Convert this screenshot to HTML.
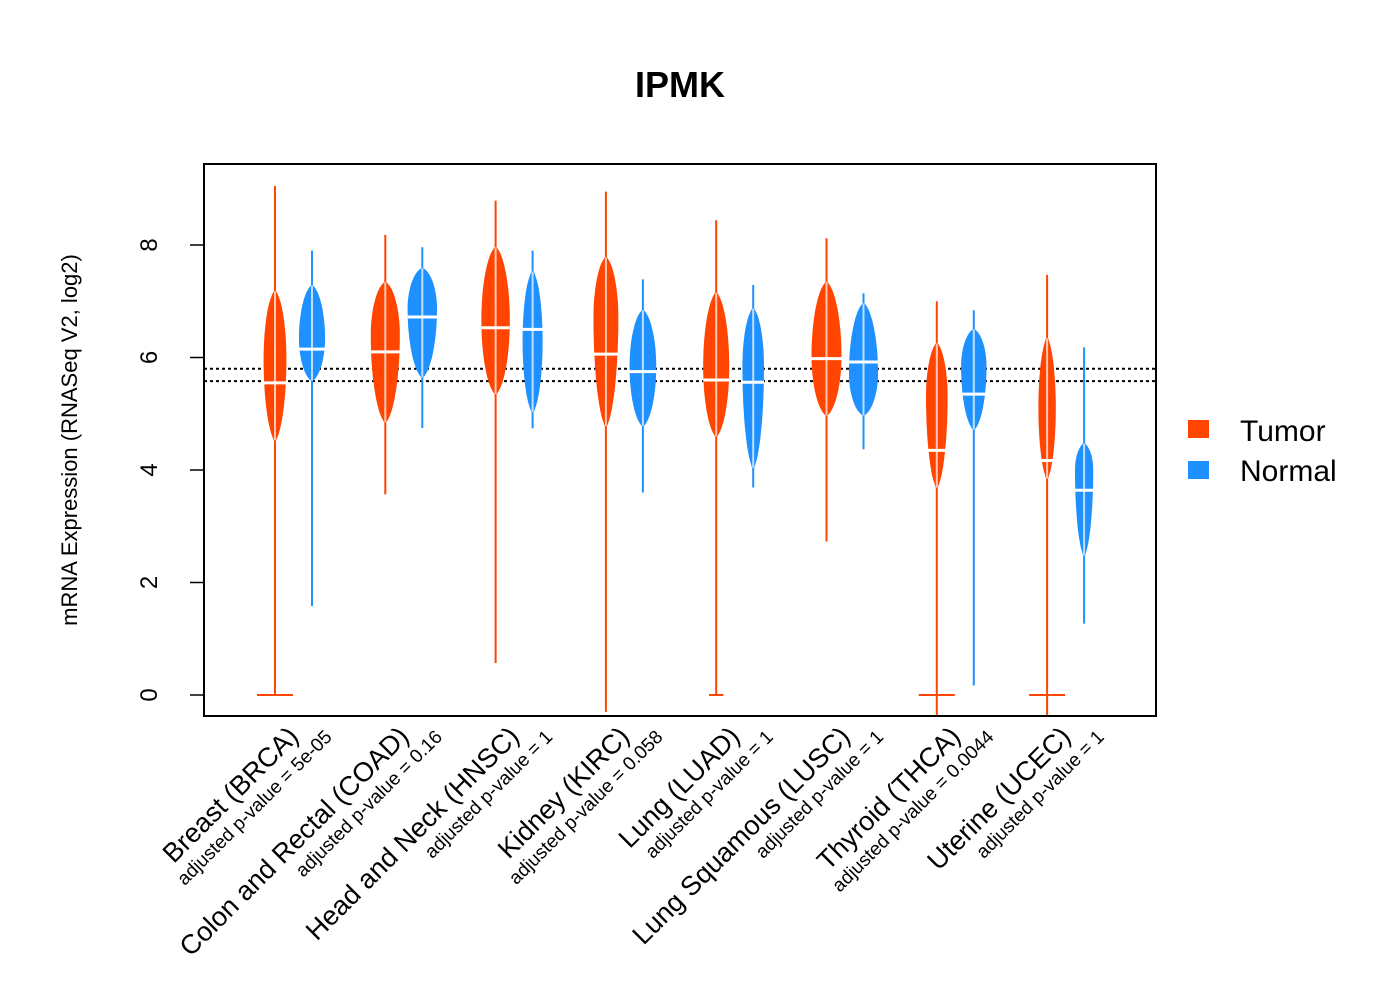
<!DOCTYPE html>
<html><head><meta charset="utf-8"><style>
html,body{margin:0;padding:0;background:#fff;}
svg{display:block;font-family:"Liberation Sans",Arial,sans-serif;}
</style></head><body>
<svg id="chart" width="1400" height="1000" viewBox="0 0 1400 1000">
<rect x="0" y="0" width="1400" height="1000" fill="#fff"/>
<text x="680" y="97" text-anchor="middle" font-size="36" font-weight="bold">IPMK</text>
<g id="plot"></g>
<rect x="204" y="164" width="952" height="552" fill="none" stroke="#000" stroke-width="2"/>
<text transform="translate(77,440) rotate(-90)" text-anchor="middle" font-size="22">mRNA Expression (RNASeq V2, log2)</text>
<g>
<rect x="1188" y="420" width="21" height="18" fill="#FF4500"/>
<text x="1240" y="441" font-size="30">Tumor</text>
<rect x="1188" y="461" width="21" height="18" fill="#1E90FF"/>
<text x="1240" y="481" font-size="30">Normal</text>
</g>
</svg>
<script>
const categories=["Breast (BRCA)","Colon and Rectal (COAD)","Head and Neck (HNSC)","Kidney (KIRC)","Lung (LUAD)","Lung Squamous (LUSC)","Thyroid (THCA)","Uterine (UCEC)"];
const pvalues=["5e-05","0.16","1","0.058","1","1","0.0044","1"];
const yTicks=[0,2,4,6,8];
const refLines=[5.8,5.58];
// tumor series: whisker low/high, body low/high, peak density value, median, relative max width
const tumorLo=[0,3.57,0.57,-0.3,0,2.73,-0.4,-0.4];
const tumorHi=[9.05,8.18,8.79,8.95,8.44,8.12,7.0,7.47];
const tumorBodyLo=[4.53,4.85,5.35,4.78,4.6,4.97,3.69,3.85];
const tumorBodyHi=[7.18,7.34,7.96,7.78,7.15,7.34,6.25,6.34];
const tumorPeak=[5.97,6.4,6.66,6.71,5.84,6.03,5.3,5.1];
const tumorMedian=[5.55,6.1,6.53,6.06,5.6,5.98,4.35,4.17];
const tumorWidth=[0.76,0.97,0.95,0.83,0.87,1.0,0.72,0.58];
const tumorZeroBar=[1,0,0,0,0.4,0,1,1];
// normal series
const normalLo=[1.58,4.75,4.74,3.6,3.69,4.37,0.17,1.27];
const normalHi=[7.9,7.96,7.9,7.39,7.29,7.14,6.84,6.18];
const normalBodyLo=[5.59,5.65,5.03,4.78,4.04,4.97,4.72,2.48];
const normalBodyHi=[7.28,7.59,7.53,6.84,6.87,6.96,6.5,4.47];
const normalPeak=[6.34,6.87,6.3,5.84,5.84,5.72,5.84,4.0];
const normalMedian=[6.15,6.72,6.5,5.75,5.56,5.92,5.35,3.64];
const normalWidth=[0.87,0.98,0.67,0.89,0.72,0.97,0.85,0.61];

const NS="http://www.w3.org/2000/svg";
const plot=document.getElementById('plot');
const svg=document.getElementById('chart');
const X0=204,X1=1156,Y0=164,Y1=716;
function yScale(v){return 695-v*56.25;}
function xTumor(i){return 275+i*110.3;}
function xNormal(i){return 312+i*110.3;}
const MAXW=15;
function mk(tag,attrs,parent){const e=document.createElementNS(NS,tag);for(const k in attrs)e.setAttribute(k,attrs[k]);(parent||plot).appendChild(e);return e;}

yTicks.forEach(t=>{
  const l=mk('line',{x1:X0,x2:X0-14,y1:yScale(t),y2:yScale(t),stroke:'#000','stroke-width':1.5},svg);
  
  
  const tx=mk('text',{transform:`translate(157,${yScale(t)}) rotate(-90)`,'text-anchor':'middle','font-size':24},svg);
  tx.textContent=t;
  
  
});
const axl=mk('line',{x1:X0,x2:X0,y1:yScale(0),y2:yScale(8),stroke:'#000','stroke-width':1.5},svg);



refLines.forEach(v=>{
  const l=mk('line',{x1:X0,x2:X1,y1:yScale(v),y2:yScale(v),stroke:'#000','stroke-width':2,'stroke-dasharray':'3,3'});
  
  
});

function violin(cx,lo,hi,blo,bhi,peak,med,w,color,name,zero){
  const g=mk('g',{});
  
  
  const clipLo=Math.max(lo,-0.37);
  mk('line',{x1:cx,x2:cx,y1:yScale(hi),y2:yScale(clipLo),stroke:color,'stroke-width':2},g);
  if(zero>0){mk('line',{x1:cx-18*zero,x2:cx+18*zero,y1:yScale(0),y2:yScale(0),stroke:color,'stroke-width':2},g);}
  const hw=w*MAXW;const N=40;const left=[],right=[];
  for(let k=0;k<=N;k++){
    const v=blo+(bhi-blo)*k/N;
    let t=v<peak?(peak-v)/(peak-blo):(v-peak)/(bhi-peak);
    const ww=Math.max(1.2,hw*Math.pow(Math.max(0,1-t*t),0.6));
    right.push((cx+ww).toFixed(1)+','+yScale(v).toFixed(1));
    left.unshift((cx-ww).toFixed(1)+','+yScale(v).toFixed(1));
  }
  mk('polygon',{points:right.concat(left).join(' '),fill:color},g);
  mk('line',{x1:cx,x2:cx,y1:yScale(bhi),y2:yScale(blo),stroke:'#fff','stroke-width':2,opacity:0.7},g);
  mk('line',{x1:cx-hw,x2:cx+hw,y1:yScale(med),y2:yScale(med),stroke:'#fff','stroke-width':3},g);
}
categories.forEach((c,i)=>{
  violin(xTumor(i),tumorLo[i],tumorHi[i],tumorBodyLo[i],tumorBodyHi[i],tumorPeak[i],tumorMedian[i],tumorWidth[i],'#FF4500','violin-tumor',tumorZeroBar[i]);
  violin(xNormal(i),normalLo[i],normalHi[i],normalBodyLo[i],normalBodyHi[i],normalPeak[i],normalMedian[i],normalWidth[i],'#1E90FF','violin-normal',0);
  const a=xTumor(i)+25;
  const t1=mk('text',{transform:`translate(${a},738) rotate(-45)`,'text-anchor':'end','font-size':27},svg);
  t1.textContent=c;
  
  
  const t2=mk('text',{transform:`translate(${a+33},738) rotate(-45)`,'text-anchor':'end','font-size':19},svg);
  t2.textContent='adjusted p-value = '+pvalues[i];
  
  
});
</script>
</body></html>
